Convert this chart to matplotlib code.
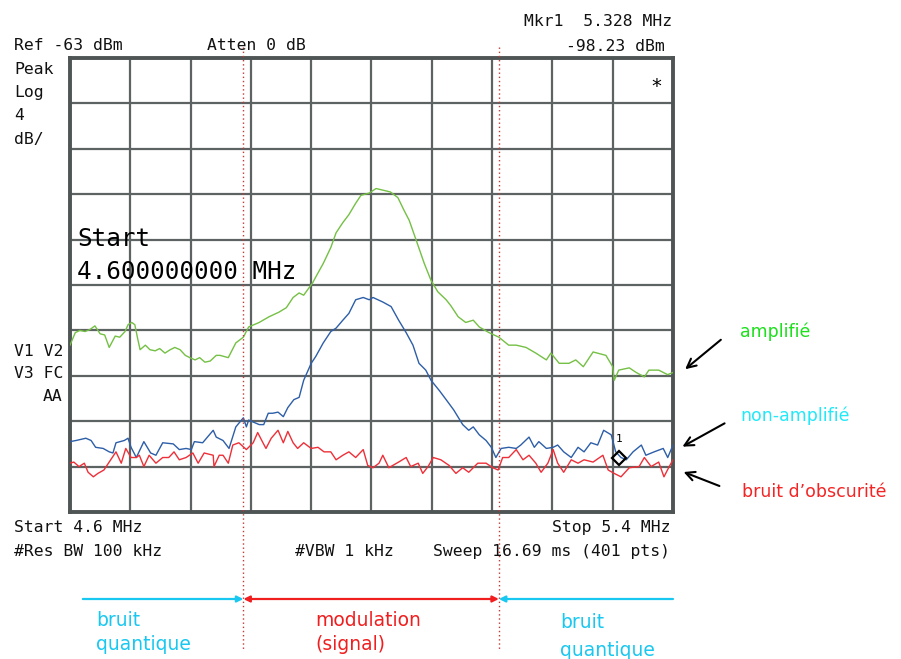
import matplotlib
matplotlib.use("Agg")
import matplotlib.pyplot as plt
from matplotlib.patches import FancyArrowPatch
from matplotlib.transforms import blended_transform_factory
import numpy as np

# --- lecture du spectre (MHz, dBm) ---
green_f = [4.600, 4.607, 4.613, 4.620, 4.627, 4.633, 4.640, 4.646, 4.652, 4.660,
           4.666, 4.673, 4.677, 4.682, 4.686, 4.690, 4.693, 4.700, 4.706, 4.713,
           4.719, 4.726, 4.733, 4.739, 4.746, 4.753, 4.759, 4.766, 4.772, 4.779,
           4.786, 4.794, 4.799, 4.810, 4.820, 4.830, 4.837, 4.851, 4.864, 4.877,
           4.887, 4.896, 4.904, 4.910, 4.922, 4.926, 4.936, 4.946, 4.953, 4.962,
           4.970, 4.979, 4.986, 4.997, 5.006, 5.025, 5.035, 5.043, 5.050, 5.059,
           5.070, 5.079, 5.088, 5.099, 5.105, 5.115, 5.125, 5.135, 5.143, 5.156,
           5.169, 5.182, 5.192, 5.205, 5.218, 5.232, 5.238, 5.249, 5.262, 5.271,
           5.281, 5.294, 5.311, 5.320, 5.322, 5.328, 5.342, 5.351, 5.362, 5.368,
           5.381, 5.393, 5.400]
green_db = [-88.3, -87.2, -87.0, -87.1, -86.9, -86.6, -87.3, -87.4, -88.5, -87.5,
            -87.6, -87.1, -86.5, -86.3, -86.5, -87.8, -88.7, -88.3, -88.7, -88.8,
            -88.6, -89.0, -88.7, -88.5, -88.7, -89.2, -89.4, -89.6, -89.4, -89.8,
            -89.7, -89.2, -89.2, -89.4, -88.1, -87.6, -86.7, -86.3, -85.8, -85.4,
            -85.0, -84.1, -83.7, -83.9, -82.8, -82.3, -81.1, -79.7, -78.4, -77.5,
            -76.8, -75.8, -75.1, -74.9, -74.5, -74.8, -75.3, -76.4, -77.3, -79.0,
            -81.1, -82.6, -83.6, -84.3, -84.8, -85.8, -86.3, -86.1, -86.7, -87.2,
            -87.6, -88.3, -88.3, -88.5, -89.0, -89.6, -89.0, -89.9, -89.9, -89.6,
            -90.2, -88.9, -89.2, -90.2, -91.4, -90.5, -90.3, -90.7, -91.1, -90.5,
            -90.5, -90.9, -90.7]

blue_f = [4.600, 4.608, 4.621, 4.628, 4.634, 4.644, 4.652, 4.657, 4.661, 4.672,
          4.677, 4.681, 4.688, 4.698, 4.707, 4.714, 4.723, 4.737, 4.745, 4.754,
          4.761, 4.765, 4.776, 4.790, 4.794, 4.803, 4.811, 4.820, 4.830, 4.834,
          4.837, 4.851, 4.857, 4.863, 4.869, 4.876, 4.883, 4.889, 4.897, 4.904,
          4.910, 4.920, 4.926, 4.936, 4.946, 4.953, 4.962, 4.970, 4.979, 4.989,
          4.997, 5.002, 5.015, 5.026, 5.036, 5.046, 5.055, 5.063, 5.072, 5.079,
          5.090, 5.099, 5.109, 5.121, 5.129, 5.135, 5.143, 5.152, 5.159, 5.165,
          5.172, 5.182, 5.192, 5.198, 5.209, 5.216, 5.222, 5.232, 5.241, 5.247,
          5.255, 5.265, 5.274, 5.282, 5.291, 5.300, 5.308, 5.318, 5.324, 5.331,
          5.338, 5.347, 5.358, 5.364, 5.375, 5.387, 5.393, 5.400]
blue_db = [-96.8, -96.7, -96.5, -96.7, -97.3, -97.4, -97.7, -97.8, -96.9, -96.7,
           -96.5, -97.3, -98.2, -96.8, -97.8, -98.0, -96.9, -97.0, -97.5, -97.4,
           -97.5, -96.8, -96.9, -95.8, -96.4, -96.7, -97.4, -95.5, -94.7, -95.5,
           -94.9, -95.3, -95.3, -94.3, -94.3, -94.2, -94.6, -93.8, -93.1, -92.9,
           -91.4, -89.9, -89.3, -88.1, -87.1, -86.8, -86.1, -85.5, -84.3, -84.1,
           -84.3, -84.1, -84.5, -84.9, -86.1, -87.2, -88.3, -89.9, -90.5, -91.4,
           -92.3, -93.1, -94.0, -95.3, -95.8, -95.5, -96.2, -96.7, -97.3, -98.2,
           -97.4, -97.3, -97.4, -97.1, -96.4, -97.3, -96.8, -97.4, -97.3, -97.1,
           -97.7, -98.2, -97.3, -97.7, -96.9, -97.1, -95.8, -96.2, -97.7, -98.2,
           -98.4, -97.7, -97.1, -98.0, -97.7, -97.4, -98.2, -97.1]

red_f = [4.600, 4.605, 4.612, 4.619, 4.624, 4.631, 4.637, 4.645, 4.652, 4.661,
         4.668, 4.674, 4.681, 4.688, 4.692, 4.698, 4.705, 4.714, 4.723, 4.731,
         4.738, 4.745, 4.754, 4.763, 4.770, 4.778, 4.790, 4.791, 4.798, 4.803,
         4.810, 4.816, 4.824, 4.834, 4.843, 4.849, 4.856, 4.860, 4.867, 4.876,
         4.883, 4.889, 4.896, 4.902, 4.910, 4.920, 4.929, 4.937, 4.946, 4.953,
         4.962, 4.970, 4.979, 4.989, 4.995, 5.002, 5.010, 5.015, 5.023, 5.036,
         5.046, 5.052, 5.062, 5.068, 5.075, 5.082, 5.092, 5.103, 5.112, 5.121,
         5.129, 5.141, 5.152, 5.161, 5.168, 5.174, 5.182, 5.192, 5.201, 5.209,
         5.218, 5.225, 5.234, 5.241, 5.247, 5.255, 5.265, 5.274, 5.282, 5.294,
         5.307, 5.314, 5.322, 5.331, 5.342, 5.355, 5.362, 5.371, 5.381, 5.388,
         5.395, 5.400]
red_db = [-98.7, -98.6, -99.0, -98.7, -99.5, -99.9, -99.6, -99.3, -98.6, -97.7,
          -98.7, -97.4, -98.2, -98.2, -98.0, -99.0, -98.0, -98.7, -98.2, -98.2,
          -97.7, -98.4, -98.2, -97.8, -98.7, -97.8, -98.0, -99.0, -98.0, -98.0,
          -98.7, -97.1, -96.9, -97.5, -96.9, -96.0, -96.9, -97.4, -96.5, -95.8,
          -96.9, -95.9, -96.9, -97.4, -96.9, -97.4, -97.3, -97.7, -97.7, -98.4,
          -98.0, -97.7, -98.2, -97.5, -98.9, -99.1, -98.7, -98.0, -99.1, -98.6,
          -98.2, -99.0, -98.7, -99.6, -99.0, -98.2, -98.4, -98.9, -99.6, -99.1,
          -99.5, -98.7, -98.7, -99.1, -99.3, -98.2, -98.2, -97.5, -98.4, -98.0,
          -98.7, -99.5, -98.7, -97.5, -98.7, -99.5, -98.4, -98.7, -98.4, -98.6,
          -98.0, -99.3, -99.6, -99.9, -99.1, -99.0, -98.2, -99.0, -98.6, -99.9,
          -99.0, -98.4]

f_start, f_stop = 4.6, 5.4
ref_level, db_per_div = -63, 4
mkr_f, mkr_db = 5.328, -98.23
zone_f = [4.830, 5.169]          # limites bruit / modulation
arrow_f0 = 4.617                 # début de la flèche de gauche

W, H = 901, 659
fig = plt.figure(figsize=(W / 100, H / 100), dpi=100)
fig.patch.set_facecolor("white")


def px(x, y):
    """pixels (origine en haut à gauche) -> fraction de figure"""
    return x / W, 1 - y / H


ax = fig.add_axes([70 / W, 1 - 512 / H, 603 / W, 454 / H])
ax.set_xlim(f_start, f_stop)
ax.set_ylim(ref_level - 10 * db_per_div, ref_level)
ax.set_xticks(np.linspace(f_start, f_stop, 11))
ax.set_yticks(np.arange(ref_level - 10 * db_per_div, ref_level + 1, db_per_div))
ax.tick_params(length=0, labelbottom=False, labelleft=False)
ax.grid(True, color="#5d6262", linewidth=1.6)
ax.set_axisbelow(True)
for sp in ax.spines.values():
    sp.set_linewidth(2.8)
    sp.set_edgecolor("#4f5454")

ax.plot(green_f, green_db, color="#74c044", lw=1.0, zorder=3)
ax.plot(blue_f, blue_db, color="#2d5ea8", lw=1.0, zorder=3)
ax.plot(red_f, red_db, color="#ee2f38", lw=1.0, zorder=3)

# marqueur 1
ax.plot([mkr_f], [mkr_db], marker="D", ms=7, mfc="none", mec="black", mew=1.6, zorder=4)
ax.text(mkr_f, mkr_db + 1.2, "1", fontsize=8, ha="center", va="bottom",
        family="DejaVu Sans Mono", zorder=4)
ax.text(5.378, -65.5, "*", fontsize=14, ha="center", va="center",
        family="DejaVu Sans Mono")

# lignes pointillées rouges (débordent au-dessus et au-dessous du cadre)
blend = blended_transform_factory(ax.transData, fig.transFigure)
for f in zone_f:
    ax.plot([f, f], [px(0, 47)[1], px(0, 650)[1]], color="#c23a3a", lw=1.0,
            ls=(0, (1, 2)), transform=blend, clip_on=False, zorder=5)

mono = "DejaVu Sans Mono"
txt = dict(family=mono, fontsize=11.8, color="#111111", va="baseline")
fig.text(*px(14, 50), "Ref -63 dBm", **txt)
fig.text(*px(207, 50), "Atten 0 dB", **txt)
fig.text(*px(672, 26), "Mkr1  5.328 MHz", ha="right", **txt)
fig.text(*px(665, 51), "-98.23 dBm", ha="right", **txt)
for i, s in enumerate(["Peak", "Log", "4", "dB/"]):
    fig.text(*px(14, 74 + 23.2 * i), s, **txt)
fig.text(*px(14, 356), "V1 V2", **txt)
fig.text(*px(14, 378), "V3 FC", **txt)
fig.text(*px(43, 401), "AA", **txt)
fig.text(*px(14, 532), "Start 4.6 MHz", **txt)
fig.text(*px(670, 532), "Stop 5.4 MHz", ha="right", **txt)
fig.text(*px(14, 556), "#Res BW 100 kHz", **txt)
fig.text(*px(295, 556), "#VBW 1 kHz", **txt)
fig.text(*px(670, 556), "Sweep 16.69 ms (401 pts)", ha="right", **txt)

big = dict(family=mono, fontsize=17.5, color="black", va="baseline")
fig.text(*px(77, 246), "Start", **big)
fig.text(*px(77, 279), "4.600000000 MHz", **big)

# légendes à droite avec flèches
lab = dict(family="DejaVu Sans", fontsize=12.5, va="center")
fig.text(*px(740, 332), "amplifié", color="#1be01b", **lab)
fig.text(*px(740, 416), "non-amplifié", color="#22e8f8", **lab)
fig.text(*px(742, 492), "bruit d\u2019obscurité", color="#f42424", **lab)
for start, end in [((723, 338), (683, 371)), ((727, 422), (680, 448)),
                   ((722, 487), (681, 471))]:
    fig.add_artist(FancyArrowPatch(px(*start), px(*end), transform=fig.transFigure,
                                   arrowstyle="->", color="black", lw=1.5,
                                   mutation_scale=16))

# flèches des zones sous le graphique
y_arr = px(0, 599)[1]
cyan = "#18c8f0"
red = "#f01e1e"
seg = [(arrow_f0, zone_f[0], cyan, "-|>"),
       (zone_f[0], zone_f[1], red, "<|-|>"),
       (f_stop, zone_f[1], cyan, "-|>")]
for a, b, c, st in seg:
    fig.add_artist(FancyArrowPatch((a, y_arr), (b, y_arr), transform=blend,
                                   arrowstyle=st, color=c, lw=1.6,
                                   mutation_scale=9, shrinkA=0, shrinkB=0))

zl = dict(family="DejaVu Sans", fontsize=13.5, va="center")
fig.text(*px(96, 620), "bruit", color=cyan, **zl)
fig.text(*px(96, 645), "quantique", color=cyan, **zl)
fig.text(*px(315, 620), "modulation", color=red, **zl)
fig.text(*px(315, 645), "(signal)", color=red, **zl)
fig.text(*px(560, 622), "bruit", color=cyan, **zl)
fig.text(*px(560, 650), "quantique", color=cyan, **zl)

fig.savefig("out.png", dpi=100, facecolor="white")
